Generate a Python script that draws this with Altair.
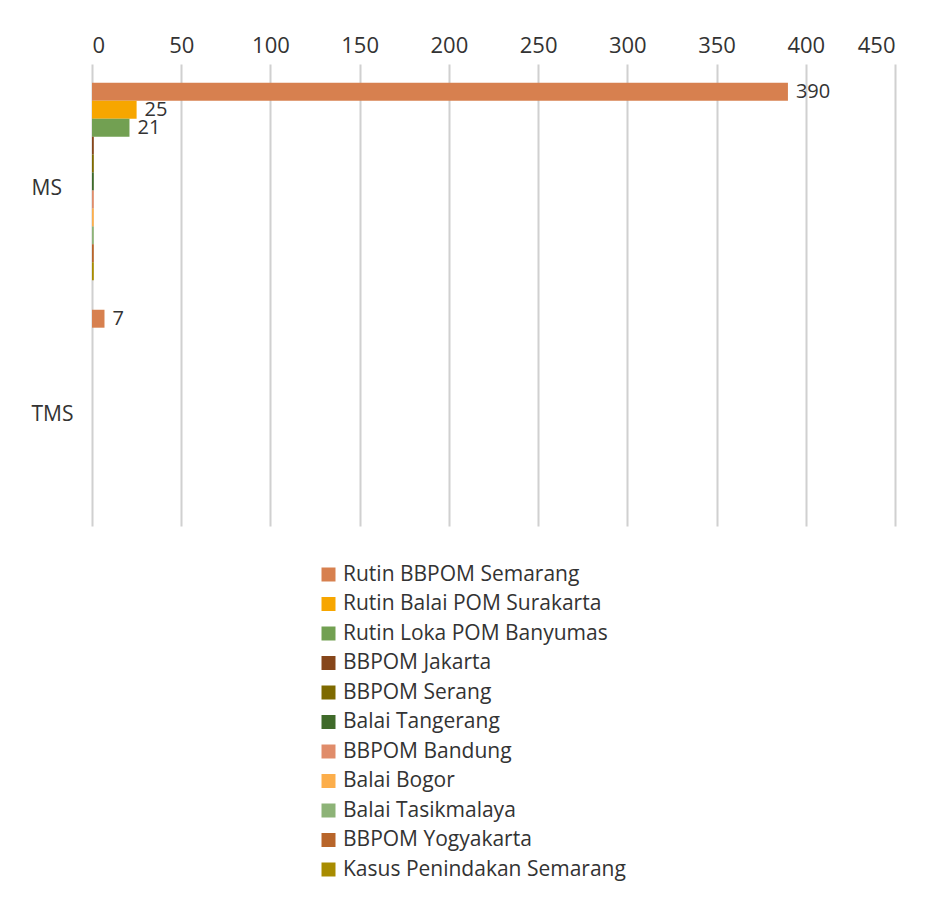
import altair as alt
import pandas as pd

categories = ["MS", "TMS"]
series = [
    "Rutin BBPOM Semarang",
    "Rutin Balai POM Surakarta",
    "Rutin Loka POM Banyumas",
    "BBPOM Jakarta",
    "BBPOM Serang",
    "Balai Tangerang",
    "BBPOM Bandung",
    "Balai Bogor",
    "Balai Tasikmalaya",
    "BBPOM Yogyakarta",
    "Kasus Penindakan Semarang",
]
ms_values = [390, 25, 21, 1, 1, 1, 1, 1, 1, 1, 1]
tms_values = [7, 0, 0, 0, 0, 0, 0, 0, 0, 0, 0]
ms_labels = ["390", "25", "21", "", "", "", "", "", "", "", ""]
tms_labels = ["7", "", "", "", "", "", "", "", "", "", ""]
x_ticks = [0, 50, 100, 150, 200, 250, 300, 350, 400, 450]
colors = [
    "#D7804F", "#F7A600", "#72A052", "#86461A", "#7E6A00", "#3F6A2A",
    "#E08C6A", "#FCAE4B", "#8DB377", "#B8652A", "#A88C00",
]

rows = []
for cat, vals, labs in [("MS", ms_values, ms_labels), ("TMS", tms_values, tms_labels)]:
    for s, v, l in zip(series, vals, labs):
        rows.append({"category": cat, "series": s, "value": v, "label": l})
df = pd.DataFrame(rows)

FONT = "Open Sans"
TXT = "#333333"

base = alt.Chart(df).encode(
    y=alt.Y(
        "category:N",
        sort=categories,
        scale=alt.Scale(paddingInner=0.13, paddingOuter=0.083),
        axis=alt.Axis(
            title=None, domain=False, ticks=False, labelAlign="left",
            labelPadding=61, labelFontSize=21, labelFont=FONT, labelColor=TXT,
            labelOffset=7,
        ),
    ),
    yOffset=alt.YOffset("series:N", sort=series, scale=alt.Scale(paddingInner=0, paddingOuter=0)),
)

bars = base.mark_bar().encode(
    x=alt.X(
        "value:Q",
        scale=alt.Scale(domain=[0, 450], nice=False),
        axis=alt.Axis(
            orient="top", values=x_ticks, title=None, domain=False, ticks=False,
            grid=True, gridColor="#D0D0D0", gridWidth=2,
            labelFontSize=22, labelFont=FONT, labelColor=TXT, labelPadding=7,
        ),
    ),
    color=alt.Color(
        "series:N",
        sort=series,
        scale=alt.Scale(domain=series, range=colors),
        legend=alt.Legend(
            orient="none", legendX=226, legendY=500, title=None,
            symbolType="square", symbolSize=196, symbolStrokeWidth=0,
            labelFontSize=21, labelFont=FONT, labelColor=TXT,
            rowPadding=7.5, labelOffset=4, direction="vertical", labelLimit=400,
        ),
    ),
)

text = base.mark_text(align="left", dx=8, fontSize=20, font=FONT, color=TXT).encode(
    x=alt.X("value:Q"),
    text="label:N",
)

chart = (
    alt.layer(bars, text)
    .properties(
        width=803, height=462,
        padding={"left": 23, "top": 26, "right": 5, "bottom": 5},
        background="white",
    )
    .configure_view(stroke=None)
)

chart.save("out.html", embed_options={"renderer": "svg", "actions": False})
